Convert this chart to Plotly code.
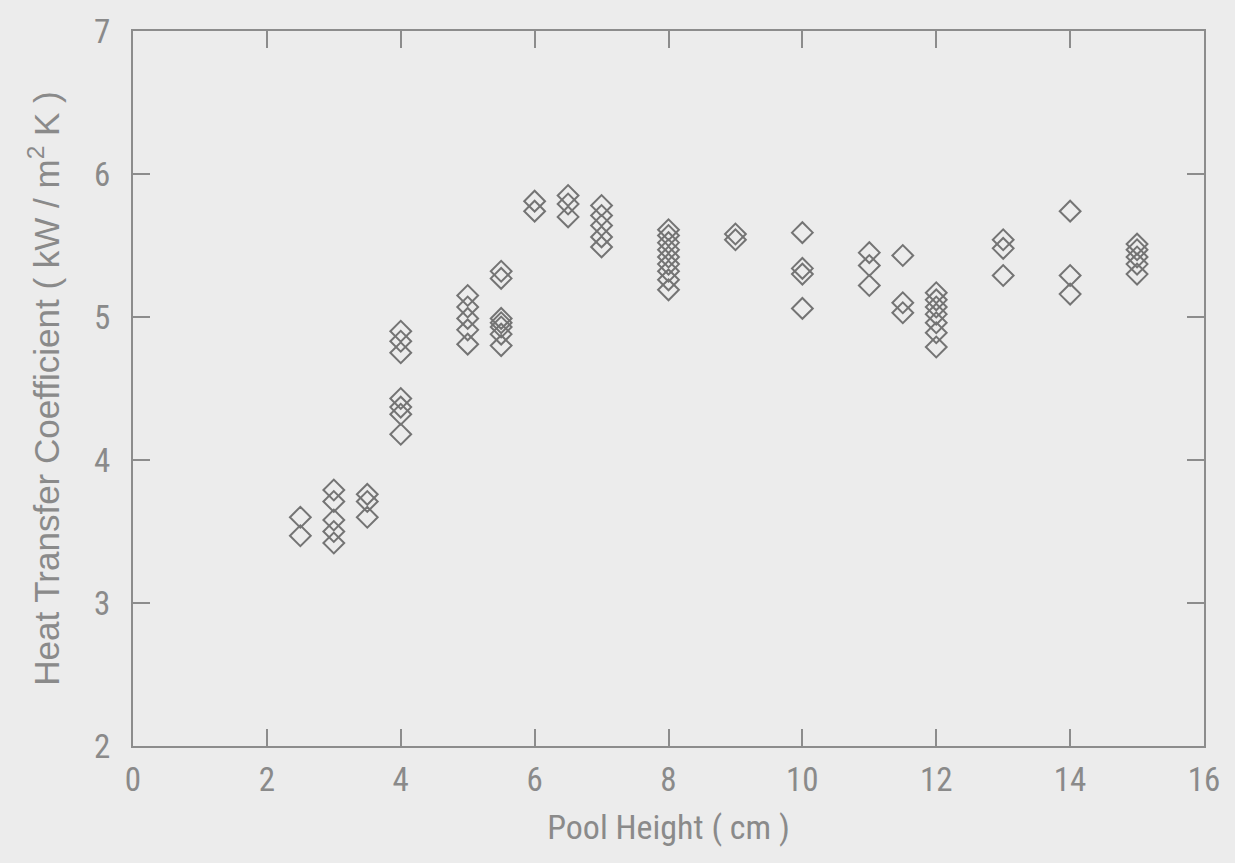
import plotly.graph_objects as go

# Pool height (cm) and measured heat transfer coefficient (kW / m^2 K)
pool_height_cm = (
    [2.5] * 2 + [3.0] * 5 + [3.5] * 3 + [4.0] * 7 + [5.0] * 5 + [5.5] * 7
    + [6.0] * 2 + [6.5] * 3 + [7.0] * 5 + [8.0] * 9 + [9.0] * 2 + [10.0] * 4
    + [11.0] * 3 + [11.5] * 3 + [12.0] * 7 + [13.0] * 3 + [14.0] * 3 + [15.0] * 5
)
htc_kw = [
    3.60, 3.47,
    3.79, 3.71, 3.58, 3.50, 3.42,
    3.76, 3.71, 3.60,
    4.90, 4.83, 4.75, 4.43, 4.37, 4.32, 4.18,
    5.15, 5.07, 4.99, 4.91, 4.81,
    5.32, 5.27, 4.99, 4.96, 4.93, 4.88, 4.80,
    5.81, 5.74,
    5.85, 5.79, 5.70,
    5.78, 5.71, 5.64, 5.56, 5.49,
    5.61, 5.57, 5.52, 5.47, 5.42, 5.37, 5.32, 5.26, 5.19,
    5.58, 5.54,
    5.59, 5.34, 5.30, 5.06,
    5.45, 5.36, 5.22,
    5.43, 5.10, 5.03,
    5.17, 5.12, 5.07, 5.02, 4.96, 4.89, 4.79,
    5.54, 5.48, 5.29,
    5.74, 5.29, 5.16,
    5.51, 5.47, 5.42, 5.37, 5.30,
]

x_ticks = [0, 2, 4, 6, 8, 10, 12, 14, 16]
y_ticks = [2, 3, 4, 5, 6, 7]

FONT = "Liberation Sans Narrow, Arial Narrow, Roboto Condensed, sans-serif"
WIDE_FONT = "Liberation Sans, Arial, sans-serif"
INK = "#8a8a8a"
PAPER = "#ececec"

fig = go.Figure(
    go.Scatter(
        x=pool_height_cm,
        y=htc_kw,
        mode="markers",
        marker=dict(
            symbol="diamond-open",
            size=16,
            color="#747474",
            line=dict(width=2, color="#747474"),
        ),
        showlegend=False,
    )
)

axis_common = dict(
    showgrid=False,
    zeroline=False,
    showline=True,
    linecolor="#8c8c8c",
    linewidth=2,
    mirror="ticks",
    ticks="inside",
    ticklen=17,
    tickwidth=1.5,
    tickcolor="#8c8c8c",
    tickfont=dict(family=FONT, size=33, color=INK),
)

fig.update_xaxes(
    range=[0, 16],
    tickvals=x_ticks,
    ticklabelstandoff=3,
    title=dict(text="Pool Height ( cm )", font=dict(family=FONT, size=34, color=INK), standoff=18),
    **axis_common,
)
fig.update_yaxes(
    range=[2, 7],
    tickvals=y_ticks,
    ticklabelstandoff=14,
    title=dict(
        text="Heat Transfer Coefficient ( kW / m<sup>2</sup> K )",
        font=dict(family=WIDE_FONT, size=35, color=INK),
        standoff=24,
    ),
    **axis_common,
)

fig.update_layout(
    width=1235,
    height=863,
    margin=dict(l=133, r=31, t=24, b=117),
    paper_bgcolor=PAPER,
    plot_bgcolor=PAPER,
)

fig.write_html("out.html")
